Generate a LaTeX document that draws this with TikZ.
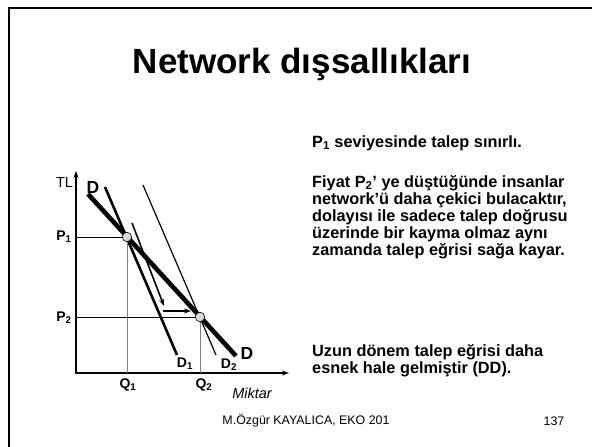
\documentclass[tikz,border=0pt]{standalone}
\usepackage{fontspec}
\setmainfont{Liberation Sans}
\usetikzlibrary{arrows.meta, positioning}

\begin{document}
\begin{tikzpicture}[
    x=1pt, y=-1pt, >={Stealth[length=7pt,width=5pt]},
    axis/.style={line width=2.2pt},
    guide/.style={line width=0.7pt},
    dmain/.style={line width=4.6pt},
    dshort/.style={line width=2.6pt},
    dlong/.style={line width=1.2pt},
    moveline/.style={->, line width=1.6pt},
    pt/.style={draw, circle, fill=gray!30, line width=0.6pt,
               minimum size=9.5pt, inner sep=0pt},
    lbl/.style={font=\fontsize{14}{16}\selectfont\bfseries, inner sep=0pt},
    dlbl/.style={font=\fontsize{17.5}{20}\selectfont\bfseries, inner sep=0pt},
    body/.style={font=\fontsize{16.3}{17.2}\selectfont\bfseries,
                 align=left, inner sep=0pt}
  ]
  \useasboundingbox (0,0) rectangle (592,447);

  % Frame
  \draw[line width=2.4pt] (9,447) -- (9,8) -- (592,8);

  % Title
  \node[font=\fontsize{35}{40}\selectfont\bfseries, anchor=base] (title)
    at (302,73) {Network dışsallıkları};

  % Axes
  \coordinate (O) at (76,373);
  \coordinate (ytip) at (76,171);
  \coordinate (xtip) at (289,373);
  \draw[axis, <->] (ytip) -- (O) -- (xtip);

  % Demand curves
  \coordinate (dd1) at (88,194);   \coordinate (dd2) at (236,356);
  \coordinate (da1) at (105,187);  \coordinate (da2) at (177,355);
  \coordinate (db1) at (143,185);  \coordinate (db2) at (216,355);
  \draw[dshort] (da1) -- (da2);
  \draw[dlong] (db1) -- (db2);
  \draw[dmain] (dd1) -- (dd2);

  % Equilibria
  \coordinate (yp1) at (76,237);  \coordinate (xq1) at (127,373);
  \coordinate (yp2) at (76,317);  \coordinate (xq2) at (200,373);
  \draw[guide] (yp1) -- (127,237);
  \draw[guide, gray] (127,237) -- (xq1);
  \draw[guide] (yp2) -- (200,317);
  \draw[guide, gray] (200,317) -- (xq2);
  \node[pt] (e1) at (127,237) {};
  \node[pt] (e2) at (200,317) {};

  % Movements
  \coordinate (m1) at (132,223);  \coordinate (m2) at (164,306);
  \coordinate (m3) at (163,311);  \coordinate (m4) at (191,311);
  \draw[moveline] (m1) -- (m2);
  \draw[moveline] (m3) -- (m4);

  % Axis labels
  \node[font=\fontsize{14.5}{16}\selectfont, inner sep=0pt] (tl) at (64.5,183) {TL};
  \node[font=\fontsize{14.5}{16}\selectfont\itshape, inner sep=0pt] (miktar)
    at (252,393) {Miktar};
  \node[lbl] (p1) at (64,237) {P\textsubscript{1}};
  \node[lbl] (p2) at (64,318) {P\textsubscript{2}};
  \node[lbl] (q1) at (128,385) {Q\textsubscript{1}};
  \node[lbl] (q2) at (204,385) {Q\textsubscript{2}};
  \node[dlbl] (dtop) at (93,187) {D};
  \node[dlbl] (dbot) at (247,353) {D};
  \node[lbl] (d1) at (185,364) {D\textsubscript{1}};
  \node[lbl] (d2) at (229,365) {D\textsubscript{2}};

  % Text
  \node[body, anchor=west] (t1) at (312,143)
    {P\textsubscript{1} seviyesinde talep sınırlı.};
  \node[body, anchor=north west] (t2) at (312,175)
    {Fiyat P\textsubscript{2}’ ye düştüğünde insanlar\\
     network’ü daha çekici bulacaktır,\\
     dolayısı ile sadece talep doğrusu\\
     üzerinde bir kayma olmaz aynı\\
     zamanda talep eğrisi sağa kayar.};
  \node[body, anchor=north west] (t3) at (312,344)
    {Uzun dönem talep eğrisi daha\\
     esnek hale gelmiştir (DD).};

  % Footer
  \node[font=\fontsize{12.4}{14}\selectfont] (foot) at (306,421)
    {M.Özgür KAYALICA, EKO 201};
  \node[font=\fontsize{12.4}{14}\selectfont] (page) at (554,421) {137};
\end{tikzpicture}
\end{document}
